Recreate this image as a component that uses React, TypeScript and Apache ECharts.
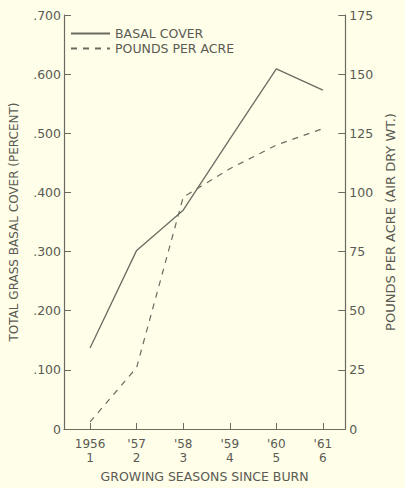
import React, { useEffect, useRef } from "react";
import * as echarts from "echarts";

const seasons = [1, 2, 3, 4, 5, 6];
const seasonLabels = ["1956\n1", "'57\n2", "'58\n3", "'59\n4", "'60\n5", "'61\n6"];
const basalCover = [0.137, 0.302, 0.37, 0.49, 0.609, 0.573];
const poundsPerAcre = [3, 26, 98, 110, 120, 127];
const leftTicks = [0, 0.1, 0.2, 0.3, 0.4, 0.5, 0.6, 0.7];
const rightTicks = [0, 25, 50, 75, 100, 125, 150, 175];

const INK = "#5a5a52";
const LINE = "#6b6b62";
const FONT = "DejaVu Sans";

export default function App() {
  const ref = useRef<HTMLDivElement>(null);
  useEffect(() => {
    if (!ref.current) return;
    const chart = echarts.init(ref.current, null, { renderer: "svg" });
    const fmtLeft = (v: number) => {
      const t = leftTicks.reduce((a, b) => (Math.abs(b - v) < Math.abs(a - v) ? b : a));
      return t === 0 ? "0" : "." + Math.round(t * 1000).toString().padStart(3, "0");
    };
    chart.setOption({
      animation: false,
      backgroundColor: "#fefee9",
      textStyle: { fontFamily: FONT, color: INK },
      grid: { left: 63, right: 53, top: 15, bottom: 59 },
      legend: {
        orient: "vertical",
        left: 65,
        top: 22,
        itemWidth: 39,
        itemHeight: 10,
        itemGap: 2,
        itemStyle: { opacity: 0 },
        textStyle: { fontFamily: FONT, fontSize: 12.5, color: INK },
        data: [{ name: "BASAL COVER" }, { name: "POUNDS PER ACRE" }],
      },
      xAxis: {
        type: "value",
        min: 0.44,
        max: 6.48,
        name: "GROWING SEASONS SINCE BURN",
        nameLocation: "middle",
        nameGap: 40,
        nameTextStyle: { fontFamily: FONT, fontSize: 12.5, color: INK },
        axisLine: { lineStyle: { color: LINE, width: 1.2 } },
        axisTick: { inside: true, length: 6, customValues: seasons, lineStyle: { color: LINE } },
        axisLabel: {
          customValues: seasons,
          formatter: (v: number) => seasonLabels[seasons.indexOf(Math.round(v))] ?? "",
          fontFamily: FONT,
          fontSize: 12,
          lineHeight: 14,
          color: INK,
          margin: 8,
        },
        splitLine: { show: false },
      },
      yAxis: [
        {
          type: "value",
          min: 0,
          max: 0.7,
          interval: 0.1,
          position: "left",
          name: "TOTAL GRASS BASAL COVER (PERCENT)",
          nameLocation: "middle",
          nameGap: 44,
          nameRotate: 90,
          nameTextStyle: { fontFamily: FONT, fontSize: 12, color: INK },
          axisLine: { show: true, lineStyle: { color: LINE, width: 1.2 } },
          axisTick: { show: true, inside: true, length: 7, lineStyle: { color: LINE } },
          axisLabel: { formatter: fmtLeft, fontFamily: FONT, fontSize: 12.5, color: INK, margin: 3 },
          splitLine: { show: false },
        },
        {
          type: "value",
          min: 0,
          max: 175,
          interval: 25,
          position: "right",
          name: "POUNDS PER ACRE (AIR DRY WT.)",
          nameLocation: "middle",
          nameGap: 33,
          nameRotate: 90,
          nameTextStyle: { fontFamily: FONT, fontSize: 13, color: INK },
          axisLine: { show: true, lineStyle: { color: LINE, width: 1.2 } },
          axisTick: { show: true, inside: true, length: 7, lineStyle: { color: LINE } },
          axisLabel: {
            formatter: (v: number) => String(rightTicks.find((t) => t === Math.round(v)) ?? Math.round(v)),
            fontFamily: FONT,
            fontSize: 12.5,
            color: INK,
            margin: 4,
          },
          splitLine: { show: false },
        },
      ],
      series: [
        {
          name: "BASAL COVER",
          type: "line",
          yAxisIndex: 0,
          symbol: "none",
          data: seasons.map((s, i) => [s, basalCover[i]]),
          lineStyle: { color: LINE, width: 1.3, type: "solid" },
          itemStyle: { color: LINE },
        },
        {
          name: "POUNDS PER ACRE",
          type: "line",
          yAxisIndex: 1,
          symbol: "none",
          data: seasons.map((s, i) => [s, poundsPerAcre[i]]),
          lineStyle: { color: LINE, width: 1.2, type: [6, 6] },
          itemStyle: { color: LINE },
        },
      ],
    });
    return () => chart.dispose();
  }, []);
  return (
    <div style={{ position: "fixed", left: 0, top: 0, width: 405, height: 488, background: "#fefee9" }}>
      <div ref={ref} style={{ width: 405, height: 488 }} />
    </div>
  );
}
